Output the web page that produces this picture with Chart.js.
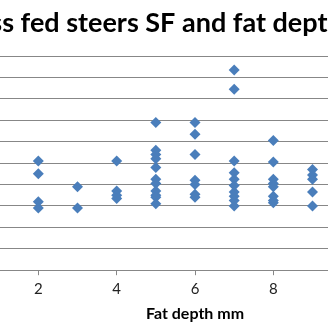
<!DOCTYPE html>
<html>
<head>
<meta charset="utf-8">
<script src="https://cdn.jsdelivr.net/npm/chart.js@4.4.1/dist/chart.umd.min.js"></script>
<style>
  html, body { margin: 0; padding: 0; background: #fff; overflow: hidden; }
  #wrap { position: absolute; left: -140px; top: 0; width: 624px; height: 328px; }
</style>
</head>
<body>
<div id="wrap"><canvas id="chartSF" width="624" height="328"></canvas></div>
<script>
/* DATOS: profundidad de grasa (mm) y SF de cada novillo */
const fatDepth = [
  2, 2, 2, 2,
  3, 3,
  4, 4, 4, 4,
  5, 5, 5, 5, 5, 5, 5, 5, 5, 5, 5,
  6, 6, 6, 6, 6, 6, 6,
  7, 7, 7, 7, 7, 7, 7, 7, 7, 7,
  8, 8, 8, 8, 8, 8, 8, 8,
  9, 9, 9, 9, 9
];
const shearForce = [
  5.1, 4.5, 3.2, 2.9,
  3.9, 2.9,
  5.1, 3.7, 3.5, 3.35,
  6.9, 5.6, 5.4, 5.2, 4.8, 4.25, 4.05, 3.7, 3.5, 3.4, 3.1,
  6.9, 6.35, 5.4, 4.2, 4.0, 3.55, 3.4,
  9.35, 8.45, 5.1, 4.55, 4.25, 3.95, 3.65, 3.45, 3.25, 3.0,
  6.05, 5.05, 4.25, 4.05, 3.9, 3.45, 3.25, 3.15,
  4.7, 4.45, 4.25, 3.65, 3.0
];
const xTicks = [0, 2, 4, 6, 8, 10, 12];
const yTicks = [0, 1, 2, 3, 4, 5, 6, 7, 8, 9, 10];

/* GRÁFICA: SF vs profundidad de grasa */
function renderChartSF() {
  const ctx = document.getElementById('chartSF').getContext('2d');
  const puntos = fatDepth.map((x, i) => ({ x: x, y: shearForce[i] }));

  window.chartSF = new Chart(ctx, {
    type: 'scatter',
    data: {
      datasets: [{
        label: 'SF',
        data: puntos,
        pointStyle: 'rectRot',
        pointRadius: 5.5,
        pointHoverRadius: 5.5,
        pointBorderWidth: 0,
        pointBackgroundColor: '#4a7ebb',
        pointBorderColor: '#4a7ebb',
      }],
    },
    options: {
      responsive: false,
      animation: false,
      layout: { padding: { left: 0, right: 54, top: 0, bottom: 4.6 } },
      plugins: {
        legend: { display: false },
        tooltip: { enabled: false },
        title: {
          display: true,
          text: 'Grass fed steers SF and fat depth',
          color: '#000',
          font: { family: 'Lato', size: 27, weight: 'bold' },
          padding: { top: 7, bottom: 16.6 },
        },
      },
      scales: {
        x: {
          type: 'linear',
          min: xTicks[0],
          max: xTicks[xTicks.length - 1],
          afterBuildTicks: (scale) => { scale.ticks = xTicks.map(v => ({ value: v })); },
          grid: { drawOnChartArea: false, drawTicks: true, tickLength: 5, color: '#878787' },
          border: { color: '#878787' },
          ticks: { color: '#222', font: { family: 'Lato', size: 15 }, padding: 5 },
          title: {
            display: true,
            text: 'Fat depth mm',
            color: '#000',
            font: { family: 'Lato', size: 16, weight: 'bold' },
            padding: { top: 1, bottom: 0 },
          },
        },
        y: {
          type: 'linear',
          min: yTicks[0],
          max: yTicks[yTicks.length - 1],
          afterBuildTicks: (scale) => { scale.ticks = yTicks.map(v => ({ value: v })); },
          afterFit: (scale) => { scale.width = 100; },
          grid: { color: '#878787', tickLength: 5 },
          border: { color: '#878787' },
          ticks: { color: '#222', font: { family: 'Lato', size: 15 } },
        },
      },
    },
  });
}

renderChartSF();
</script>
</body>
</html>
